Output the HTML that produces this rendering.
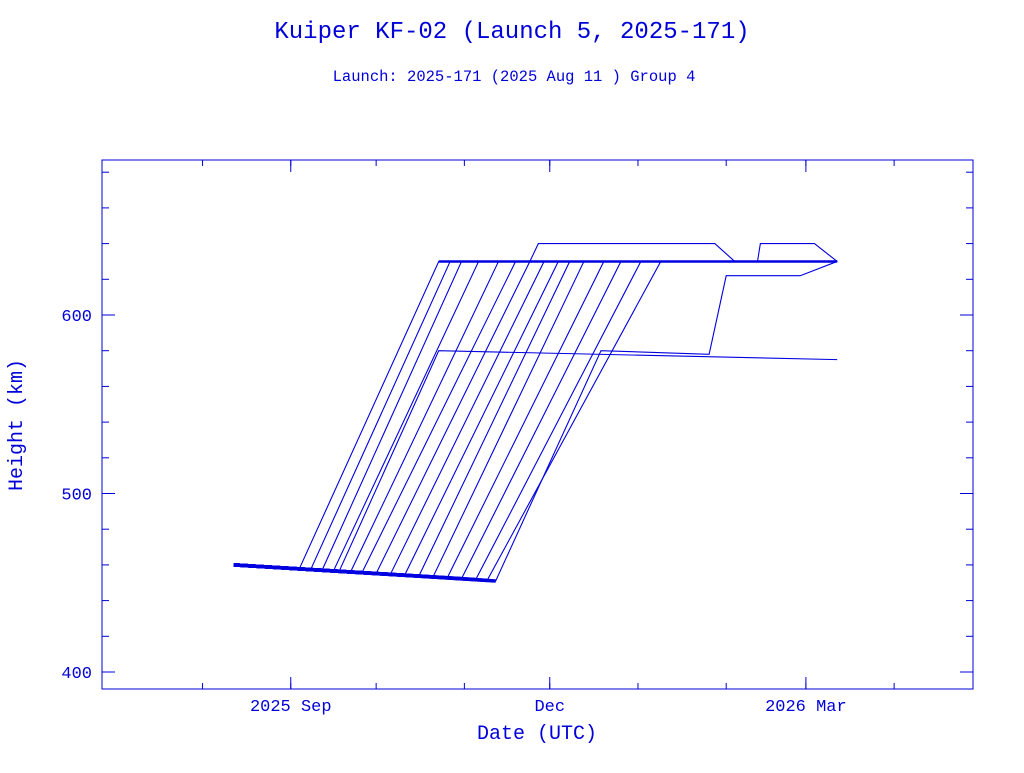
<!DOCTYPE html>
<html><head><meta charset="utf-8"><style>
body{margin:0;background:#fff;width:1024px;height:768px;overflow:hidden}
svg text{font-family:"Liberation Mono",monospace;fill:#0000d8}
</style></head><body>
<svg width="1024" height="768" id="svg">
<text x="512" y="38" text-anchor="middle" font-size="24">Kuiper KF-02 (Launch 5, 2025-171)</text>
<text x="514" y="81" text-anchor="middle" font-size="15.5">Launch: 2025-171  (2025 Aug 11 )  Group 4</text>
<rect x="102" y="160" width="871" height="529" fill="none" stroke="#0000d8"/>
<text x="537" y="739" text-anchor="middle" font-size="20">Date (UTC)</text>
<text transform="translate(22,425) rotate(-90)" text-anchor="middle" font-size="20">Height (km)</text>
<g id="axes"></g><g id="marks"></g>
</svg>
<script>
const yTicks=[400,500,600];
const xTickDays=[21,112,202];
const xTickLabels=["2025 Sep","Dec","2026 Mar"];
const monthDays=[-10,21,51,82,112,143,174,202,233];
const sats=[
[[1,460],[24,457.8],[73,630],[213,630]],
[[1,460],[38,456.4],[73,580],[213,575]],
[[1,460],[28,457.4],[77,630],[213,630]],
[[1,460],[32,457.0],[81,630],[213,630]],
[[1,460],[36,456.6],[87,630],[105,630],[108,640],[170,640],[177,630],[213,630]],
[[1,460],[42,456.0],[94,630],[213,630]],
[[1,460],[46,455.6],[100,630],[185,630],[186,640],[205,640],[213,630]],
[[1,460],[51,455.2],[105,630],[213,630]],
[[1,460],[56,454.7],[110,630],[213,630]],
[[1,460],[61,454.2],[115,630],[213,630]],
[[1,460],[66,453.7],[119,630],[213,630]],
[[1,460],[71,453.3],[124,630],[213,630]],
[[1,460],[93,451.0],[130,580],[168,578],[174,622],[200,622],[213,630]],
[[1,460],[76,452.8],[131,630],[213,630]],
[[1,460],[81,452.3],[137,630],[213,630]],
[[1,460],[86,451.8],[144,630],[213,630]],
[[1,460],[90,451.3],[151,630],[213,630]]
];
const X=d=>231+d*2.846, Y=v=>672-(v-400)*1.785;
const NS="http://www.w3.org/2000/svg";
const ax=document.getElementById('axes'), mk=document.getElementById('marks');
function mkEl(t,a,p){const e=document.createElementNS(NS,t);for(const k in a)e.setAttribute(k,a[k]);p.appendChild(e);return e;}
for(let v=400;v<=680;v+=20){const y=Y(v),L=(v%100===0)?13:7;
const t1=mkEl('line',{x1:102,x2:102+L,y1:y,y2:y,stroke:'#0000d8'},ax);


const t2=mkEl('line',{x1:973-L,x2:973,y1:y,y2:y,stroke:'#0000d8'},ax);

}
yTicks.forEach(v=>{const t=mkEl('text',{x:92,y:Y(v)+6,'text-anchor':'end','font-size':17},ax);t.textContent=v;

});
monthDays.forEach(d=>{const x=X(d);if(x<102||x>973)return;
const t=mkEl('line',{x1:x,x2:x,y1:689,y2:683,stroke:'#0000d8'},ax);


const u=mkEl('line',{x1:x,x2:x,y1:160,y2:166,stroke:'#0000d8'},ax);

});
xTickDays.forEach((d,i)=>{const x=X(d);
const t=mkEl('line',{x1:x,x2:x,y1:689,y2:677,stroke:'#0000d8'},ax);


const u=mkEl('line',{x1:x,x2:x,y1:160,y2:172,stroke:'#0000d8'},ax);


const l=mkEl('text',{x:x,y:711,'text-anchor':'middle','font-size':17},ax);l.textContent=xTickLabels[i];

});
sats.forEach((s,i)=>{
const b=mkEl('line',{x1:X(s[0][0]),y1:Y(s[0][1]),x2:X(s[1][0]),y2:Y(s[1][1]),stroke:'#0000e0','stroke-width':3.5},mk);


const p=mkEl('polyline',{points:s.map(q=>X(q[0])+','+Y(q[1])).join(' '),fill:'none',stroke:'#0000e0','stroke-width':1.1},mk);


});
const thick=mkEl('line',{x1:X(sats[0][2][0]),y1:Y(630),x2:X(213),y2:Y(630),stroke:'#0000e0','stroke-width':2.5},mk);


</script>
</body></html>
